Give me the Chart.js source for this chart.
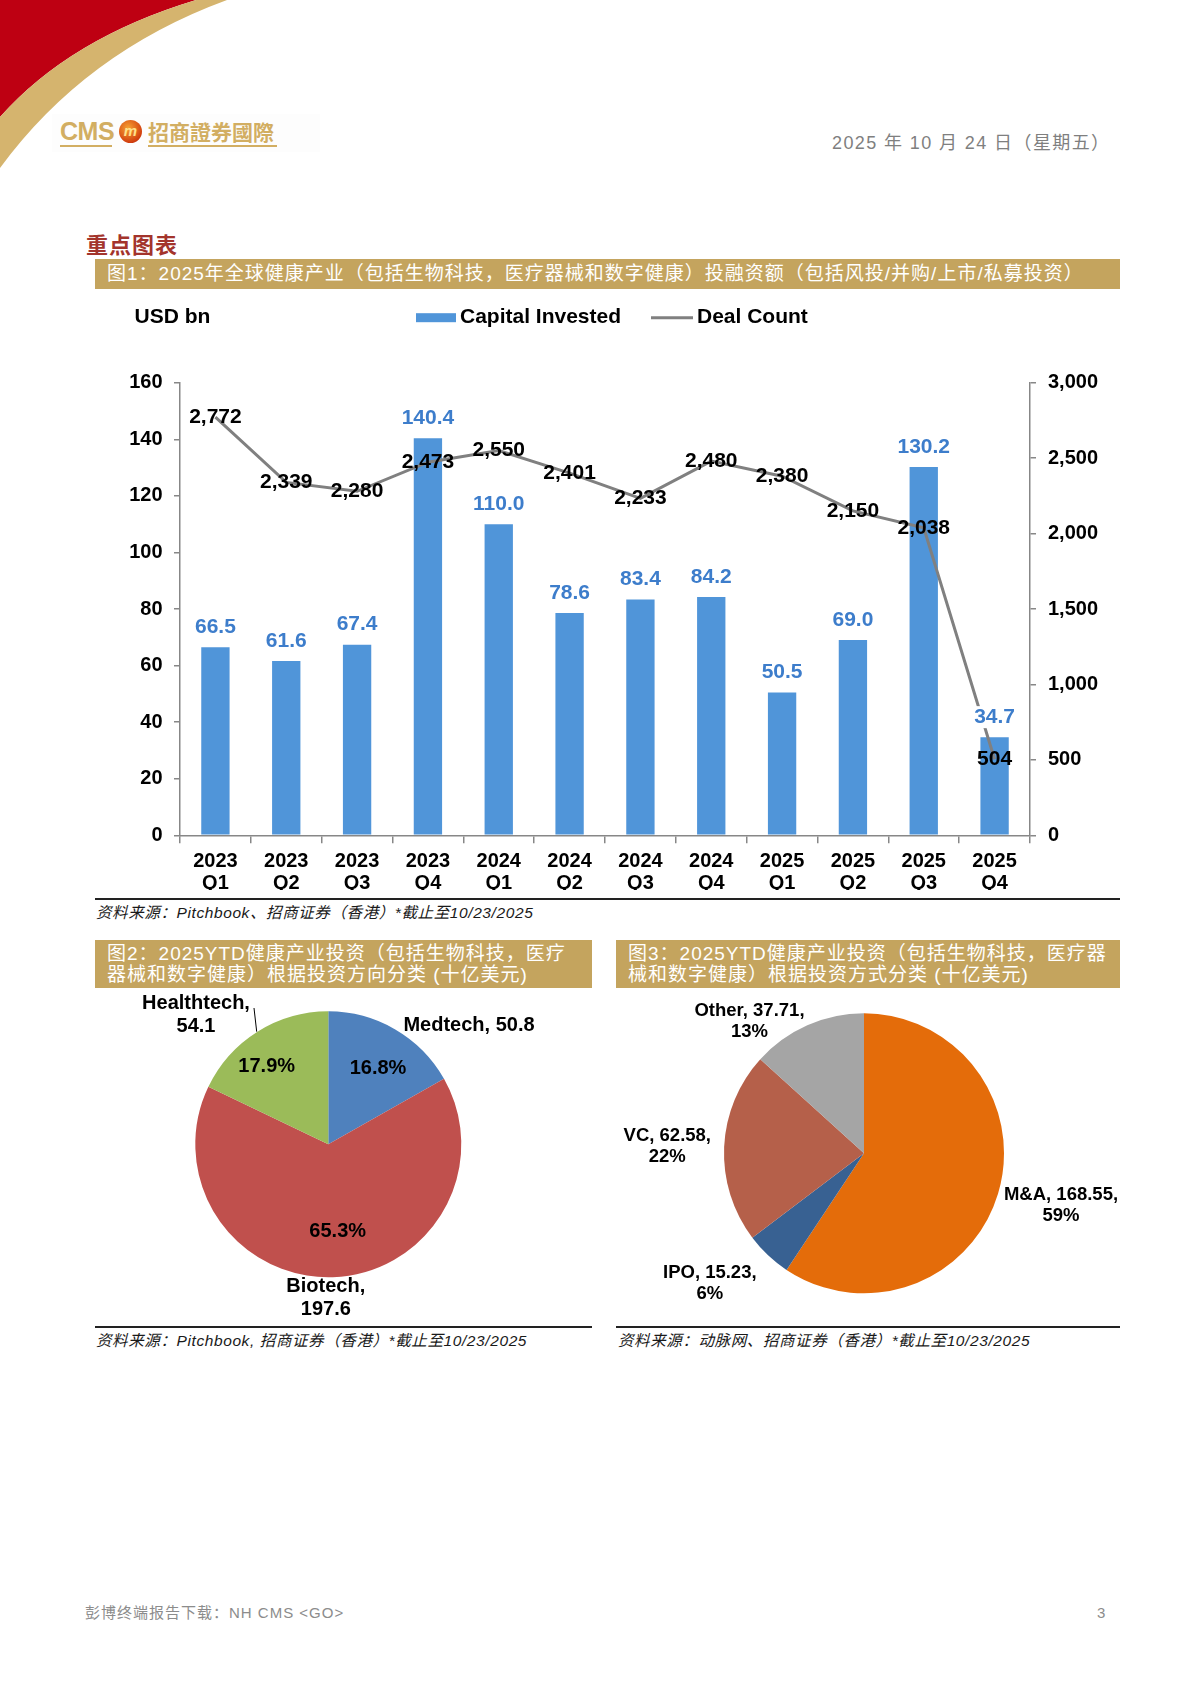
<!DOCTYPE html>
<html lang="zh-CN">
<head>
<meta charset="utf-8">
<title>2025年全球健康产业投融资</title>
<script src="https://cdn.jsdelivr.net/npm/chart.js@4.4.1/dist/chart.umd.min.js"></script>
<style>
  html, body { margin: 0; padding: 0; background: #fff; }
  body { width: 1191px; height: 1683px; position: relative; overflow: hidden;
         font-family: "Liberation Sans", Arial, "Noto Sans CJK SC", sans-serif; }
  .abs { position: absolute; }
  .goldbox { position: absolute; background: #C4A45E; color: #fff; font-size: 18px; box-sizing: border-box; letter-spacing: 1px; }
  .src { position: absolute; font-size: 15.5px; font-style: italic; color: #1a1a1a; white-space: nowrap; line-height: 20px; letter-spacing: 0.6px; }
  .rule { position: absolute; height: 1.5px; background: #222; }
</style>
</head>
<body>

<!-- header decoration -->
<svg class="abs" style="left:0;top:0" width="260" height="180">
  <path d="M0,0 L196,0 Q70,38 0,117 Z" fill="#BE0012"/>
  <path d="M196,0 L227,0 Q85,52 0,168 L0,117 Q70,38 196,0 Z" fill="#D5B46E"/>
</svg>
<div class="abs" style="left:52px;top:114px;width:268px;height:38px;background:#fdfdfd;"></div>
<div class="abs" style="left:60px;top:117px;font-size:25px;font-weight:bold;color:#D2AE62;letter-spacing:-0.5px;">CMS</div>
<div class="abs" style="left:60px;top:145px;width:52px;height:1.5px;background:#D2AE62;"></div>
<div class="abs" style="left:119px;top:120px;width:23px;height:23px;border-radius:50%;background:radial-gradient(circle at 40% 35%, #F7A233, #D2400F 70%, #9A1A08);color:#FFE08A;font-size:15px;font-weight:bold;font-style:italic;text-align:center;line-height:22px;">m</div>
<div class="abs" style="left:148px;top:119px;font-size:21px;font-weight:bold;color:#D2AE62;font-family:'Noto Sans CJK TC','Noto Sans CJK SC',sans-serif;line-height:25px;">招商證券國際</div>
<div class="abs" style="left:148px;top:145px;width:129px;height:1.5px;background:#D2AE62;"></div>

<div class="abs" style="left:832px;top:131px;font-size:18px;color:#7f7f7f;white-space:nowrap;line-height:24px;letter-spacing:1.4px;">2025 年 10 月 24 日（星期五）</div>

<div class="abs" style="left:86px;top:229px;font-size:22px;font-weight:bold;color:#A3342C;font-family:'Noto Sans CJK SC',sans-serif;line-height:28px;letter-spacing:1px;">重点图表</div>

<div class="goldbox" style="left:95px;top:259px;width:1025px;height:30px;padding-left:12px;line-height:30px;font-size:19px;white-space:nowrap;">图1：2025年全球健康产业（包括生物科技，医疗器械和数字健康）投融资额（包括风投/并购/上市/私募投资）</div>

<canvas id="mainChart" class="abs" style="left:95px;top:295px;" width="1025" height="595"></canvas>

<div class="rule" style="left:95px;top:898px;width:1025px;"></div>
<div class="src" style="left:96px;top:903px;">资料来源：Pitchbook、招商证券（香港）*截止至10/23/2025</div>

<div class="goldbox" style="left:95px;top:940px;width:497px;height:48px;padding:3px 0 0 12px;line-height:21px;font-size:19px;white-space:nowrap;">图2：2025YTD健康产业投资（包括生物科技，医疗<br>器械和数字健康）根据投资方向分类 (十亿美元)</div>
<div class="goldbox" style="left:616px;top:940px;width:504px;height:48px;padding:3px 0 0 12px;line-height:21px;font-size:19px;white-space:nowrap;">图3：2025YTD健康产业投资（包括生物科技，医疗器<br>械和数字健康）根据投资方式分类 (十亿美元)</div>

<canvas id="directionPie" class="abs" style="left:95px;top:990px;" width="497" height="330"></canvas>
<canvas id="methodPie" class="abs" style="left:616px;top:990px;" width="504" height="330"></canvas>

<div class="rule" style="left:95px;top:1326px;width:497px;"></div>
<div class="rule" style="left:616px;top:1326px;width:504px;"></div>
<div class="src" style="left:96px;top:1331px;">资料来源：Pitchbook, 招商证券（香港）*截止至10/23/2025</div>
<div class="src" style="left:618px;top:1331px;">资料来源：动脉网、招商证券（香港）*截止至10/23/2025</div>

<div class="abs" style="left:85px;top:1603px;font-size:15px;color:#8c8c8c;white-space:nowrap;line-height:20px;letter-spacing:1px;">彭博终端报告下载：NH CMS &lt;GO&gt;</div>
<div class="abs" style="left:1097px;top:1603px;font-size:15px;color:#8c8c8c;line-height:20px;">3</div>

<script>
// ---- data ----
const years = ['2023', '2023', '2023', '2023', '2024', '2024', '2024', '2024', '2025', '2025', '2025', '2025'];
const quarters = ['Q1', 'Q2', 'Q3', 'Q4', 'Q1', 'Q2', 'Q3', 'Q4', 'Q1', 'Q2', 'Q3', 'Q4'];
const capitalInvested = [66.5, 61.6, 67.4, 140.4, 110.0, 78.6, 83.4, 84.2, 50.5, 69.0, 130.2, 34.7];
const dealCount = [2772, 2339, 2280, 2473, 2550, 2401, 2233, 2480, 2380, 2150, 2038, 504];
const capitalTicks = [0, 160, 20];      // min, max, step
const dealTicks = [0, 3000, 500];

const directionNames = ['Medtech', 'Biotech', 'Healthtech'];
const directionValues = [50.8, 197.6, 54.1];
const directionPct = ['16.8%', '65.3%', '17.9%'];

const methodNames = ['M&A', 'IPO', 'VC', 'Other'];
const methodValues = [168.55, 15.23, 62.58, 37.71];
const methodPct = ['59%', '6%', '22%', '13%'];

// ---- styles ----
const FONT = '"Liberation Sans", Arial, sans-serif';
const BAR_BLUE = '#5095D9';
const LABEL_BLUE = '#3D7DCB';
const LINE_GREY = '#808080';
const AXIS_GREY = '#878787';

// value labels + legend for the combo chart
const comboDecor = {
    id: 'comboDecor',
    afterDatasetsDraw(chart) {
        const ctx = chart.ctx;
        ctx.save();
        ctx.font = 'bold 21px ' + FONT;
        ctx.textAlign = 'center';
        ctx.textBaseline = 'middle';

        // bar labels (white backing so the line passes behind them)
        chart.getDatasetMeta(0).data.forEach(function (bar, i) {
            const txt = capitalInvested[i].toFixed(1);
            const y = bar.y - 20;
            const w = ctx.measureText(txt).width;
            ctx.fillStyle = '#fff';
            ctx.fillRect(bar.x - w / 2 - 1, y - 11, w + 2, 22);
            ctx.fillStyle = LABEL_BLUE;
            ctx.fillText(txt, bar.x, y);
        });

        // deal count labels centred on points
        ctx.fillStyle = '#000';
        chart.getDatasetMeta(1).data.forEach(function (pt, i) {
            ctx.fillText(dealCount[i].toLocaleString('en-US'), pt.x, pt.y);
        });

        // unit + legend
        const ly = 22.7;
        ctx.textAlign = 'left';
        ctx.fillText('USD bn', 39.6, ly);
        ctx.fillStyle = BAR_BLUE;
        ctx.fillRect(321, ly - 4.5, 40, 9);
        ctx.fillStyle = '#000';
        ctx.fillText(chart.data.datasets[0].label, 365, ly);
        ctx.strokeStyle = LINE_GREY;
        ctx.lineWidth = 3;
        ctx.beginPath();
        ctx.moveTo(556, ly);
        ctx.lineTo(598, ly);
        ctx.stroke();
        ctx.fillText(chart.data.datasets[1].label, 602, ly);
        ctx.restore();
    }
};

new Chart(document.getElementById('mainChart'), {
    type: 'bar',
    data: {
        labels: years.map(function (y, i) { return [y, quarters[i]]; }),
        datasets: [
            {
                label: 'Capital Invested',
                data: capitalInvested,
                backgroundColor: BAR_BLUE,
                yAxisID: 'y',
                order: 1,
                categoryPercentage: 1,
                barPercentage: 0.4
            },
            {
                type: 'line',
                label: 'Deal Count',
                data: dealCount,
                borderColor: LINE_GREY,
                borderWidth: 3,
                pointRadius: 0,
                tension: 0,
                yAxisID: 'y1',
                order: 0
            }
        ]
    },
    options: {
        responsive: false,
        animation: false,
        layout: { padding: { top: 87.7, left: 0, right: 0, bottom: 0 } },
        plugins: { legend: { display: false }, tooltip: { enabled: false } },
        scales: {
            x: {
                grid: { drawOnChartArea: false, color: AXIS_GREY, lineWidth: 1.5, tickLength: 8, offset: true },
                border: { color: AXIS_GREY, width: 1.5 },
                ticks: { color: '#000', font: { family: FONT, size: 20, weight: 'bold', lineHeight: 1.1 }, padding: 7, maxRotation: 0 },
                afterFit: function (scale) { scale.height = 54.7; }
            },
            y: {
                position: 'left',
                min: capitalTicks[0], max: capitalTicks[1],
                grid: { drawOnChartArea: false, color: AXIS_GREY, lineWidth: 1.5, tickLength: 6 },
                border: { color: AXIS_GREY, width: 1.5 },
                ticks: { stepSize: capitalTicks[2], color: '#000', padding: 11.5, font: { family: FONT, size: 20, weight: 'bold' } },
                afterFit: function (scale) { scale.width = 85; }
            },
            y1: {
                position: 'right',
                min: dealTicks[0], max: dealTicks[1],
                grid: { drawOnChartArea: false, color: AXIS_GREY, lineWidth: 1.5, tickLength: 6 },
                border: { color: AXIS_GREY, width: 1.5 },
                ticks: {
                    stepSize: dealTicks[2], color: '#000', padding: 12,
                    font: { family: FONT, size: 20, weight: 'bold' },
                    callback: function (v) { return Number(v).toLocaleString('en-US'); }
                },
                afterFit: function (scale) { scale.width = 90; }
            }
        }
    },
    plugins: [comboDecor]
});

// text labels around the pies, offsets measured from the pie centre
const pieText = {
    id: 'pieText',
    afterDatasetsDraw(chart, args, opts) {
        const arc = chart.getDatasetMeta(0).data[0];
        const cx = arc.x, cy = arc.y;
        const ctx = chart.ctx;
        ctx.save();
        ctx.font = 'bold ' + opts.size + 'px ' + FONT;
        ctx.fillStyle = '#000';
        ctx.textAlign = 'center';
        ctx.textBaseline = 'middle';
        opts.items.forEach(function (it) {
            it.lines.forEach(function (ln, k) {
                ctx.fillText(ln, cx + it.dx, cy + it.dy + k * opts.gap);
            });
        });
        (opts.leaders || []).forEach(function (l) {
            ctx.strokeStyle = '#000';
            ctx.lineWidth = 1;
            ctx.beginPath();
            ctx.moveTo(cx + l[0], cy + l[1]);
            ctx.lineTo(cx + l[2], cy + l[3]);
            ctx.stroke();
        });
        ctx.restore();
    }
};

new Chart(document.getElementById('directionPie'), {
    type: 'pie',
    data: {
        labels: directionNames,
        datasets: [{
            data: directionValues,
            backgroundColor: ['#4F81BD', '#C0504D', '#9BBB59'],
            borderWidth: 0
        }]
    },
    options: {
        responsive: false,
        animation: false,
        radius: 133,
        layout: { padding: { left: 93.3, right: 123.7, top: 14.3, bottom: 35.7 } },
        plugins: {
            legend: { display: false },
            tooltip: { enabled: false },
            pieText: {
                size: 20, gap: 23,
                items: [
                    { lines: [directionNames[0] + ', ' + directionValues[0].toFixed(1)], dx: 140.7, dy: -119.3 },
                    { lines: [directionNames[1] + ',', directionValues[1].toFixed(1)], dx: -2.5, dy: 142.4 },
                    { lines: [directionNames[2] + ',', directionValues[2].toFixed(1)], dx: -132.3, dy: -141.3 },
                    { lines: [directionPct[0]], dx: 49.7, dy: -76.3 },
                    { lines: [directionPct[1]], dx: 9.4, dy: 87.4 },
                    { lines: [directionPct[2]], dx: -61.6, dy: -78.3 }
                ],
                leaders: [[-74.3, -136.3, -71.6, -112.6]]
            }
        }
    },
    plugins: [pieText]
});

new Chart(document.getElementById('methodPie'), {
    type: 'pie',
    data: {
        labels: methodNames,
        datasets: [{
            data: methodValues,
            backgroundColor: ['#E46C0A', '#386192', '#B5604A', '#A5A5A5'],
            borderWidth: 0
        }]
    },
    options: {
        responsive: false,
        animation: false,
        radius: 140,
        layout: { padding: { left: 103, right: 111, top: 18.3, bottom: 21.7 } },
        plugins: {
            legend: { display: false },
            tooltip: { enabled: false },
            pieText: {
                size: 18.5, gap: 21,
                items: methodNames.map(function (n, i) {
                    const pos = [[197, 41.7], [-154.2, 119.7], [-196.7, -17.3], [-114.5, -142.6]][i];
                    return { lines: [n + ', ' + methodValues[i] + ',', methodPct[i]], dx: pos[0], dy: pos[1] };
                })
            }
        }
    },
    plugins: [pieText]
});
</script>
</body>
</html>
